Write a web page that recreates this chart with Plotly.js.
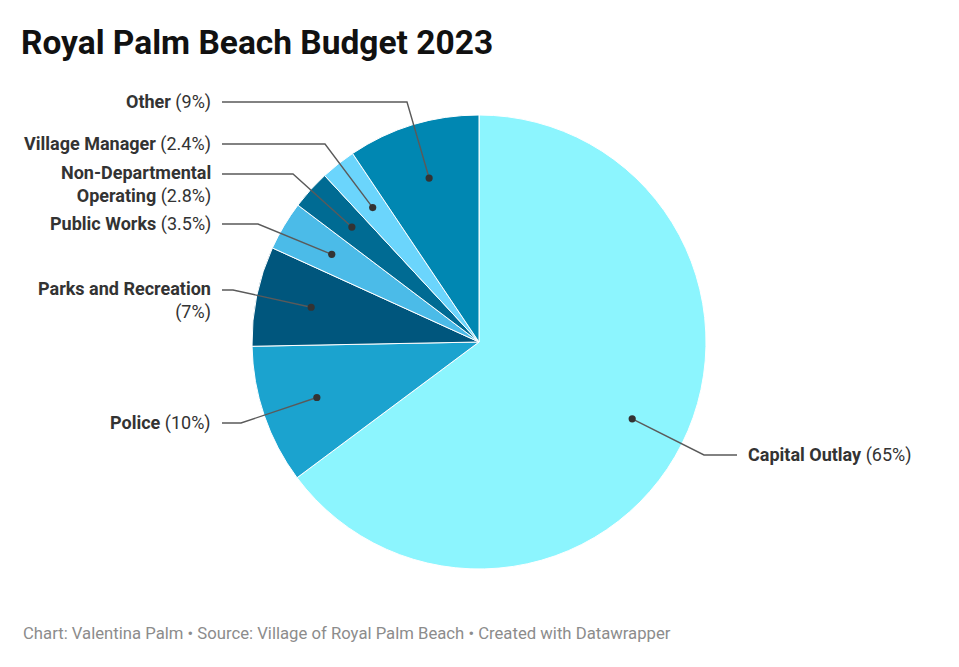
<!DOCTYPE html>
<html>
<head>
<meta charset="utf-8">
<script src="https://cdn.plot.ly/plotly-3.0.1.min.js"></script>
<style>
  html, body { margin: 0; padding: 0; background: #fff; }
  #chart { width: 959px; height: 667px; }
</style>
</head>
<body>
<div id="chart"></div>
<script>
// ---- Data ----
const categories = ["Capital Outlay", "Police", "Parks and Recreation", "Public Works", "Non-Departmental Operating", "Village Manager", "Other"];
// slice shares (labels below show the rounded values)
const shares = [64.8, 9.9, 7.1, 3.5, 2.8, 2.5, 9.4];
const shareLabels = ["65%", "10%", "7%", "3.5%", "2.8%", "2.4%", "9%"];
const labelLines = [["Capital Outlay"], ["Police"], ["Parks and Recreation", ""], ["Public Works"], ["Non-Departmental", "Operating"], ["Village Manager"], ["Other"]];
const sliceColors = ["#8cf5fe", "#1ba3cf", "#00567d", "#4bbbe8", "#006b93", "#6bd5fc", "#0087b2"];

// ---- Layout settings (positions, not data) ----
const W = 959, H = 667;
const cx = 479, cy = 342, R = 227;
const dotFrac = 0.755;
const lineH = 21.5;
// label placement: side, first-line y (px), elbow x (px)
const labelPlace = [
  {side: "right", y: 455, elbow: 704},
  {side: "left",  y: 423, elbow: 241},
  {side: "left",  y: 290, elbow: 233},
  {side: "left",  y: 224, elbow: 258},
  {side: "left",  y: 174, elbow: 293},
  {side: "left",  y: 144, elbow: 325},
  {side: "left",  y: 102, elbow: 407}
];
const leftTextX = 213, leftLineX = 222;
const rightTextX = 746, rightLineX = 737;

const px = x => x / W;
const py = y => 1 - y / H;

const total = shares.reduce((a, b) => a + b, 0);
let cum = 0;
const shapes = [];
const annotations = [];
shares.forEach((v, i) => {
  const mid = (cum + v / 2) / total * 2 * Math.PI;
  cum += v;
  const dx = cx + Math.sin(mid) * R * dotFrac;
  const dy = cy - Math.cos(mid) * R * dotFrac;
  const p = labelPlace[i];
  const startX = p.side === "left" ? leftLineX : rightLineX;
  shapes.push({
    type: "path", xref: "paper", yref: "paper",
    path: `M ${px(startX)},${py(p.y)} L ${px(p.elbow)},${py(p.y)} L ${px(dx)},${py(dy)}`,
    line: {color: "#5a5a5a", width: 1.4}
  });
  const rr = 3.6;
  shapes.push({
    type: "circle", xref: "paper", yref: "paper",
    x0: px(dx - rr), x1: px(dx + rr), y0: py(dy + rr), y1: py(dy - rr),
    fillcolor: "#333333", line: {width: 0}
  });
  const lines = labelLines[i];
  let text;
  if (lines.length === 1) {
    text = `<b>${lines[0]}</b> (${shareLabels[i]})`;
  } else if (lines[1] === "") {
    text = `<b>${lines[0]}</b><br>(${shareLabels[i]})`;
  } else {
    text = `<b>${lines[0]}</b><br><b>${lines[1]}</b> (${shareLabels[i]})`;
  }
  const n = lines.length;
  annotations.push({
    xref: "paper", yref: "paper",
    x: px(p.side === "left" ? leftTextX : rightTextX),
    y: py(p.y + (n - 1) * lineH / 2),
    xanchor: p.side === "left" ? "right" : "left",
    yanchor: "middle",
    align: p.side === "left" ? "right" : "left",
    showarrow: false,
    text: text,
    font: {family: "Roboto, sans-serif", size: 18, color: "#333333"}
  });
});

annotations.push({
  xref: "paper", yref: "paper", x: px(21), y: py(633),
  xanchor: "left", yanchor: "middle", showarrow: false,
  text: "Chart: Valentina Palm • Source: Village of Royal Palm Beach • Created with Datawrapper",
  font: {family: "Roboto, sans-serif", size: 16.7, color: "#8c8c8c"}
});

const trace = {
  type: "pie",
  labels: categories,
  values: shares,
  sort: false,
  direction: "clockwise",
  rotation: 0,
  textinfo: "none",
  hoverinfo: "label+percent",
  marker: {colors: sliceColors, line: {color: "#ffffff", width: 1}},
  domain: {x: [px(cx - R), px(cx + R)], y: [py(cy + R), py(cy - R)]},
  showlegend: false
};

const layout = {
  width: W, height: H,
  margin: {l: 0, r: 0, t: 0, b: 0},
  paper_bgcolor: "#ffffff",
  showlegend: false,
  title: {
    text: "<b>Royal Palm Beach Budget 2023</b>",
    x: px(21), xanchor: "left", xref: "paper",
    y: py(42), yanchor: "middle", yref: "paper",
    font: {family: "Roboto, sans-serif", size: 33.5, color: "#111111"}
  },
  shapes: shapes,
  annotations: annotations
};

Plotly.newPlot("chart", [trace], layout, {displayModeBar: false, staticPlot: true});
</script>
</body>
</html>
